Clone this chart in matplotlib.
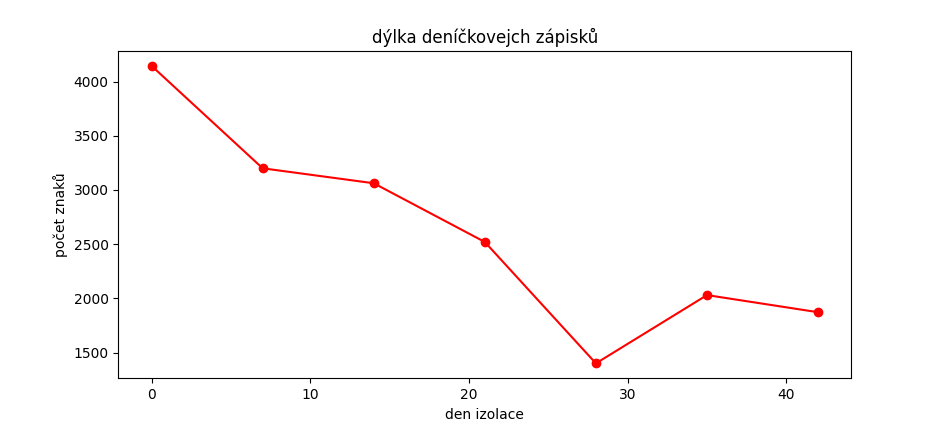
import matplotlib

matplotlib.use("Agg")
import matplotlib.pyplot as plt

days = [0, 7, 14, 21, 28, 35, 42]
char_counts = [4145, 3200, 3062, 2520, 1400, 2030, 1872]

fig, ax = plt.subplots(figsize=(9.46, 4.25), dpi=100)
ax.plot(days, char_counts, color="red", marker="o")
ax.set_title("dýlka deníčkovejch zápisků")
ax.set_xlabel("den izolace")
ax.set_ylabel("počet znaků")
fig.savefig("out.png", dpi=100)
plt.close(fig)
